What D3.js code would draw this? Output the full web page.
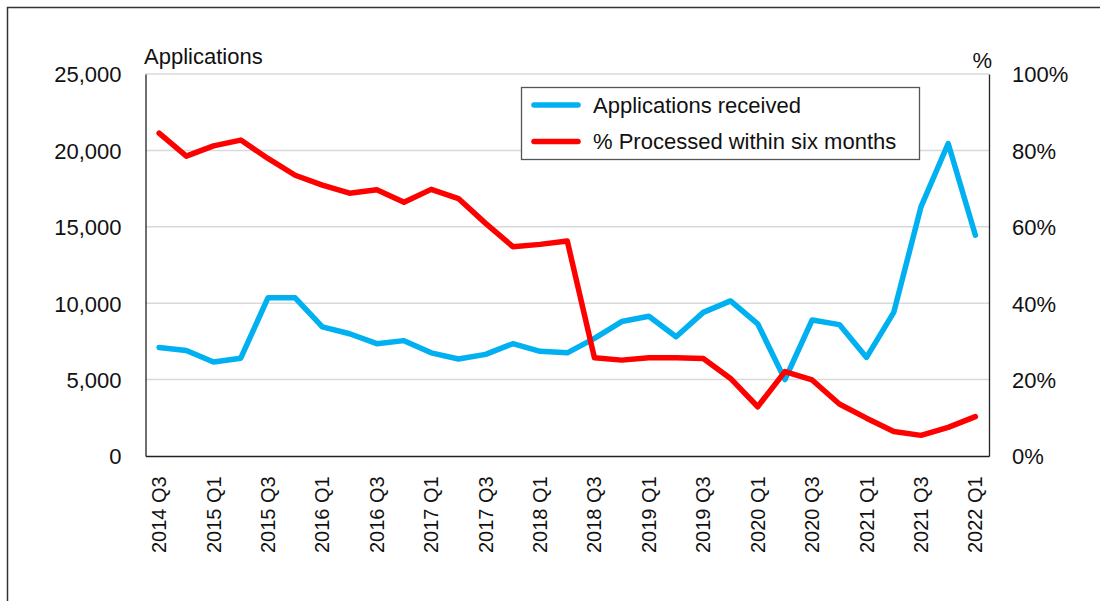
<!DOCTYPE html>
<html>
<head>
<meta charset="utf-8">
<script src="https://cdn.jsdelivr.net/npm/d3@7"></script>
<style>
  body { margin: 0; background: #fff; }
  text { font-family: "Liberation Sans", Arial, sans-serif; fill: #111; }
</style>
</head>
<body>
<svg id="chart" width="1100" height="601"></svg>
<script>

// quarters 2014 Q3 .. 2022 Q1
var quarters = ["2014 Q3","2014 Q4","2015 Q1","2015 Q2","2015 Q3","2015 Q4","2016 Q1","2016 Q2",
                "2016 Q3","2016 Q4","2017 Q1","2017 Q2","2017 Q3","2017 Q4","2018 Q1","2018 Q2",
                "2018 Q3","2018 Q4","2019 Q1","2019 Q2","2019 Q3","2019 Q4","2020 Q1","2020 Q2",
                "2020 Q3","2020 Q4","2021 Q1","2021 Q2","2021 Q3","2021 Q4","2022 Q1"];

var applications = [7100, 6900, 6150, 6400, 10350, 10350, 8450, 8000, 7350, 7550, 6750, 6350,
                    6650, 7350, 6850, 6750, 7700, 8800, 9150, 7800, 9400, 10150, 8650, 5000,
                    8900, 8600, 6450, 9400, 16300, 20450, 14450];

var processed = [84.5, 78.5, 81.2, 82.7, 77.9, 73.5, 70.9, 68.8, 69.7, 66.4, 69.8, 67.4,
                 60.9, 54.8, 55.4, 56.3, 25.7, 25.1, 25.7, 25.7, 25.5, 20.3, 12.9, 22.1,
                 19.9, 13.6, 9.9, 6.4, 5.4, 7.5, 10.3];

var leftTicks = [0, 5000, 10000, 15000, 20000, 25000];
var rightTicks = [0, 20, 40, 60, 80, 100];

var seriesNames = ["Applications received", "% Processed within six months"];
var seriesColors = ["#00b0f0", "#ff0000"];

var svg = d3.select("#chart");
var plotLeft = 145.5, plotRight = 989, plotTop = 74, plotBottom = 456;

// outer frame
svg.append("rect")
    .attr("x", 7.5).attr("y", 7.5)
    .attr("width", 1110).attr("height", 610)
    .attr("fill", "none").attr("stroke", "#333").attr("stroke-width", 1.5);

var x = d3.scaleBand().domain(quarters).range([plotLeft, plotRight]).padding(0);
var yL = d3.scaleLinear().domain([0, 25000]).range([plotBottom, plotTop]);
var yR = d3.scaleLinear().domain([0, 100]).range([plotBottom, plotTop]);

// gridlines
svg.append("g")
    .selectAll("line")
    .data(leftTicks.filter(function(d){ return d > 0; }))
    .enter().append("line")
    .attr("x1", plotLeft).attr("x2", plotRight)
    .attr("y1", function(d){ return yL(d); })
    .attr("y2", function(d){ return yL(d); })
    .attr("stroke", "#d9d9d9").attr("stroke-width", 1.5);

// axes
var axisL = svg.append("g").attr("transform", "translate(" + plotLeft + ",0)")
    .call(d3.axisLeft(yL).tickValues(leftTicks).tickSize(0).tickPadding(24)
          .tickFormat(d3.format(",")));
var axisR = svg.append("g").attr("transform", "translate(" + plotRight + ",0)")
    .call(d3.axisRight(yR).tickValues(rightTicks).tickSize(0).tickPadding(23)
          .tickFormat(function(d){ return d + "%"; }));
var axisB = svg.append("g").attr("transform", "translate(0," + plotBottom + ")")
    .call(d3.axisBottom(x).tickSize(0)
          .tickValues(quarters.filter(function(d, i){ return i % 2 === 0; })));

[axisL, axisR, axisB].forEach(function(a){
    a.select(".domain").attr("stroke", "#222").attr("stroke-width", 1.3);
    a.selectAll("text").style("font-size", "22px").attr("fill", "#111");
});
axisL.selectAll("text").attr("dy", "0.36em");
axisR.selectAll("text").attr("dy", "0.36em");

axisB.selectAll("text")
    .style("font-size", "20px")
    .attr("text-anchor", "start")
    .attr("dy", null)
    .attr("y", 0)
    .attr("transform", "translate(7,97) rotate(-90)");

// axis titles
svg.append("text").attr("x", 144).attr("y", 64).style("font-size", "22px").text("Applications");
svg.append("text").attr("x", 992).attr("y", 68).attr("text-anchor", "end")
    .style("font-size", "22px").text("%");

// lines
var lineApps = d3.line()
    .x(function(d, i){ return x(quarters[i]) + x.bandwidth() / 2; })
    .y(function(d){ return yL(d); });
var linePct = d3.line()
    .x(function(d, i){ return x(quarters[i]) + x.bandwidth() / 2; })
    .y(function(d){ return yR(d); });

svg.append("path").datum(applications)
    .attr("d", lineApps).attr("fill", "none")
    .attr("stroke", seriesColors[0]).attr("stroke-width", 5.5)
    .attr("stroke-linejoin", "round").attr("stroke-linecap", "round");
svg.append("path").datum(processed)
    .attr("d", linePct).attr("fill", "none")
    .attr("stroke", seriesColors[1]).attr("stroke-width", 5.5)
    .attr("stroke-linejoin", "round").attr("stroke-linecap", "round");

// legend
var legend = svg.append("g");
legend.append("rect")
    .attr("x", 521.5).attr("y", 87.5).attr("width", 398).attr("height", 72)
    .attr("fill", "#fff").attr("stroke", "#555").attr("stroke-width", 1.3);
var item = legend.selectAll("g.item")
    .data(seriesNames)
    .enter().append("g").attr("class", "item")
    .attr("transform", function(d, i){ return "translate(0," + (105 + i * 36.5) + ")"; });
item.append("line")
    .attr("x1", 534).attr("x2", 578).attr("y1", 0).attr("y2", 0)
    .attr("stroke", function(d, i){ return seriesColors[i]; })
    .attr("stroke-width", 5.5).attr("stroke-linecap", "round");
item.append("text")
    .attr("x", 593).attr("dy", "0.36em")
    .style("font-size", "22px")
    .text(function(d){ return d; });

</script>
</body>
</html>
